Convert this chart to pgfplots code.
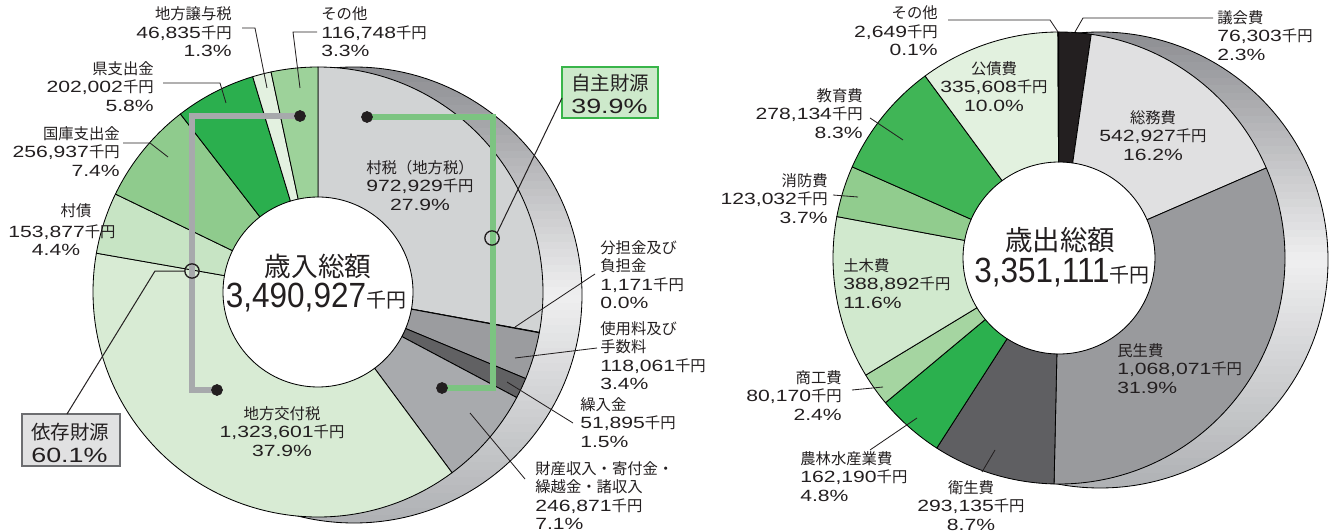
\documentclass[border=0pt]{standalone}
\usepackage{fontspec}
\usepackage{pgfplots}
\usepackage{pgfplotstable}
\pgfplotsset{compat=1.18}
\setmainfont{Noto Sans CJK JP}
\newfontfamily\nf[FakeStretch=1.3,Scale=1.06]{Liberation Sans}
\newfontfamily\bnf[FakeStretch=0.9]{Liberation Sans}
\newcommand\N[1]{{\nf #1}}

\definecolor{txt}{HTML}{231F20}
% revenue colours
\definecolor{aA}{HTML}{D1D3D4}
\definecolor{aB}{HTML}{B0B2B5}
\definecolor{aC}{HTML}{9B9C9F}
\definecolor{aD}{HTML}{616163}
\definecolor{aE}{HTML}{A8AAAD}
\definecolor{aF}{HTML}{D8EBD4}
\definecolor{aG}{HTML}{C7E4C4}
\definecolor{aH}{HTML}{8FCB8D}
\definecolor{aI}{HTML}{2BAF4E}
\definecolor{aJ}{HTML}{E3F1E0}
\definecolor{aK}{HTML}{9DD29A}
% expenditure colours
\definecolor{bA}{HTML}{231F20}
\definecolor{bB}{HTML}{E0E0E1}
\definecolor{bC}{HTML}{999A9D}
\definecolor{bD}{HTML}{5F5F62}
\definecolor{bE}{HTML}{2BB04E}
\definecolor{bF}{HTML}{A5D5A1}
\definecolor{bG}{HTML}{D1E9CE}
\definecolor{bH}{HTML}{91CC8E}
\definecolor{bI}{HTML}{40B556}
\definecolor{bJ}{HTML}{E2F1DF}
\definecolor{bK}{HTML}{D1D3D4}
\definecolor{shTop}{HTML}{8E8F93}
\definecolor{shBot}{HTML}{B0B2B5}
\definecolor{shLight}{HTML}{EFEFF0}
\definecolor{brkGray}{HTML}{A7A9AC}
\definecolor{brkGreen}{HTML}{7CC481}
\definecolor{jiFill}{HTML}{CDE9CB}
\definecolor{jiDraw}{HTML}{39B54A}
\definecolor{izFill}{HTML}{E1E1E2}
\definecolor{izDraw}{HTML}{6D6E71}

\tikzset{
  lb/.style={font=\fontsize{9.2}{11.1}\selectfont, inner sep=0pt, text=txt},
  bx/.style={font=\fontsize{11.7}{13.4}\selectfont, inner sep=0pt, text=txt, align=left, anchor=north west},
}

% 歳入 (千円), clockwise from 12 o'clock
\pgfplotstableread{
v c
972929 aA
1171 aB
118061 aC
51895 aD
246871 aE
1323601 aF
153877 aG
256937 aH
202002 aI
46835 aJ
116748 aK
}\rev
% 歳出 (千円), clockwise from 12 o'clock
\pgfplotstableread{
v c
76303 bA
542927 bB
1068071 bC
293135 bD
162190 bE
80170 bF
388892 bG
123032 bH
278134 bI
335608 bJ
2649 bK
}\expd

% ring wedges from a table: table, cx, cy, Rout, Rin (px)
\newcommand\donut[5]{%
  \fill[white] (axis cs:#2,#3) circle[radius=#5*0.6pt];
  \pgfplotstablegetrowsof{#1}%
  \edef\nr{\fpeval{\pgfplotsretval-1}}%
  \gdef\tot{0}%
  \foreach \i in {0,...,\nr}{%
    \pgfplotstablegetelem{\i}{v}\of{#1}%
    \xdef\tot{\fpeval{\tot+\pgfplotsretval}}}%
  \gdef\cum{0}%
  \foreach \i in {0,...,\nr}{%
    \pgfplotstablegetelem{\i}{v}\of{#1}\let\vv\pgfplotsretval
    \pgfplotstablegetelem{\i}{c}\of{#1}\let\cc\pgfplotsretval
    \edef\angA{\fpeval{round(90-\cum/\tot*360,4)}}%
    \edef\angB{\fpeval{round(90-(\cum+\vv)/\tot*360,4)}}%
    \xdef\cum{\fpeval{\cum+\vv}}%
    \filldraw[fill=\cc, draw=black, line width=0.5pt, line join=round]
      ([shift={(\angA:#4*0.6pt)}]axis cs:#2,#3)
      arc[start angle=\angA, end angle=\angB, radius=#4*0.6pt]
      -- ([shift={(\angB:#5*0.6pt)}]axis cs:#2,#3)
      arc[start angle=\angB, end angle=\angA, radius=#5*0.6pt] -- cycle;
  }}

% 3D rim behind a ring: cx, cy (px, y down), R (px); vertical gradient by stripes
\newcommand\rim[3]{%
  \begin{scope}
    \clip ({#1*0.6pt},{(531-#2)*0.6pt}) circle[radius=#3*0.6pt];
    \foreach \k in {0,...,59}{%
      \edef\tk{\fpeval{\k/59}}%
      \edef\pp{\fpeval{round(\tk<0.5 ? 200*\tk : 200*(1-\tk),2)}}%
      \ifdim\tk pt<0.5pt \colorlet{sc}{shLight!\pp!shTop}\else\colorlet{sc}{shLight!\pp!shBot}\fi
      \edef\ya{\fpeval{round((531-(#2-#3+\k*#3/30))*0.6,3)}}%
      \edef\yb{\fpeval{round((531-(#2-#3+(\k+1)*#3/30))*0.6-0.8,3)}}%
      \fill[sc] ({(#1-#3)*0.6pt},\ya pt) rectangle ({(#1+#3)*0.6pt},\yb pt);
    }%
  \end{scope}
  \draw[line width=0.5pt] ({#1*0.6pt},{(531-#2)*0.6pt}) circle[radius=#3*0.6pt];
}

\begin{document}
\begin{tikzpicture}
\useasboundingbox (0,0) rectangle (799.8pt,318.6pt);
\rim{354}{295}{228}
\rim{1100}{260}{228}
\begin{axis}[
  at={(0pt,0pt)}, anchor=south west,
  x=0.6pt, y=0.6pt, xmin=0, xmax=1333, ymin=0, ymax=531, y dir=reverse,
  hide axis, clip=false, enlargelimits=false,
]
\pgfplotsextra{\donut{\rev}{318}{292}{225}{95}}
\pgfplotsextra{\donut{\expd}{1059}{258}{226}{96}}

% brackets
\addplot[draw=brkGray, line width=3.8pt, mark=none, forget plot] coordinates {(300,116) (192,116) (192,390) (217,390)};
\addplot[draw=brkGreen, line width=3.8pt, mark=none, forget plot] coordinates {(367,117) (493,117) (493,388) (442,388)};
\addplot[only marks, mark=*, mark size=3.3pt, color=txt, forget plot] coordinates {(300,116) (217,390) (367,117) (442,388)};
\addplot[only marks, mark=o, mark size=4.3pt, line width=0.8pt, color=txt, forget plot] coordinates {(492,238) (192,271)};

% boxes
\filldraw[fill=jiFill, draw=jiDraw, line width=0.8pt] (axis cs:562,67) rectangle (axis cs:658,118);
\node[bx] at (axis cs:571,74) {自主財源\\\N{39.9\%}};
\draw[line width=0.6pt, txt] (axis cs:562,98) -- (axis cs:497,233);
\filldraw[fill=izFill, draw=izDraw, line width=0.8pt] (axis cs:22,414) rectangle (axis cs:120,466);
\node[bx] at (axis cs:31,423) {依存財源\\\N{60.1\%}};
\draw[line width=0.6pt, txt] (axis cs:67,414) -- (axis cs:155,271) -- (axis cs:185,271);

% leader lines
\draw[line width=0.5pt, txt] (axis cs:317,32) -- (axis cs:293,32) -- (axis cs:300,88);
\draw[line width=0.5pt, txt] (axis cs:242,28) -- (axis cs:255,28) -- (axis cs:267,88);
\draw[line width=0.5pt, txt] (axis cs:163,83) -- (axis cs:220,83) -- (axis cs:226,103);
\draw[line width=0.5pt, txt] (axis cs:123,143) -- (axis cs:150,143) -- (axis cs:168,157);
\draw[line width=0.5pt, txt] (axis cs:595,274) -- (axis cs:515,327);
\draw[line width=0.5pt, txt] (axis cs:597,348) -- (axis cs:515,358);
\draw[line width=0.5pt, txt] (axis cs:573,423) -- (axis cs:507,382);
\draw[line width=0.5pt, txt] (axis cs:525,479) -- (axis cs:470,413);
\draw[line width=0.5pt, txt] (axis cs:1213,18) -- (axis cs:1083,18) -- (axis cs:1075,32);
\draw[line width=0.5pt, txt] (axis cs:948,20) -- (axis cs:1050,20) -- (axis cs:1058,32);
\draw[line width=0.5pt, txt] (axis cs:870,118) -- (axis cs:903,140);
\draw[line width=0.5pt, txt] (axis cs:833,195) -- (axis cs:858,197);
\draw[line width=0.5pt, txt] (axis cs:852,390) -- (axis cs:883,387);
\draw[line width=0.5pt, txt] (axis cs:870,450) -- (axis cs:917,418);
\draw[line width=0.5pt, txt] (axis cs:982,472) -- (axis cs:995,450);

% revenue labels
\node[lb, anchor=north west, align=left] at (axis cs:321,6.5) {その他\\\N{116,748}千円\\\N{3.3\%}};
\node[lb, anchor=north east, align=right] at (axis cs:232,6.5) {地方譲与税\\\N{46,835}千円\\\N{1.3\%}};
\node[lb, anchor=north east, align=right] at (axis cs:154,61) {県支出金\\\N{202,002}千円\\\N{5.8\%}};
\node[lb, anchor=north east, align=right] at (axis cs:120,126) {国庫支出金\\\N{256,937}千円\\\N{7.4\%}};
\node[lb] at (axis cs:76,211) {村債};
\node[lb] at (axis cs:62,232) {\N{153,877}千円};
\node[lb] at (axis cs:56,250) {\N{4.4\%}};
\node[lb, anchor=north, align=center] at (axis cs:420,160) {村税（地方税）\\\N{972,929}千円\\\N{27.9\%}};
\node[lb, anchor=north west, align=left] at (axis cs:600,240) {分担金及び\\負担金\\\N{1,171}千円\\\N{0.0\%}};
\node[lb, anchor=north west, align=left] at (axis cs:600,321) {使用料及び\\手数料\\\N{118,061}千円\\\N{3.4\%}};
\node[lb, anchor=north west, align=left] at (axis cs:580,397) {繰入金\\\N{51,895}千円\\\N{1.5\%}};
\node[lb, anchor=north west, align=left] at (axis cs:535,461) {財産収入・寄付金・\\繰越金・諸収入\\\N{246,871}千円\\\N{7.1\%}};
\node[lb, anchor=north, align=center] at (axis cs:282,406) {地方交付税\\\N{1,323,601}千円\\\N{37.9\%}};
\node[inner sep=0pt, text=txt, font=\fontsize{16}{16}\selectfont] at (axis cs:318,266) {歳入総額};
\node[inner sep=0pt, text=txt] at (axis cs:316,298) {{\fontsize{21}{21}\selectfont\bnf 3,490,927}{\fontsize{12}{12}\selectfont 千円}};

% expenditure labels
\node[lb, anchor=north west, align=left] at (axis cs:1217,10) {議会費\\\N{76,303}千円\\\N{2.3\%}};
\node[lb, anchor=north east, align=right] at (axis cs:938,5.5) {その他\\\N{2,649}千円\\\N{0.1\%}};
\node[lb, anchor=north, align=center] at (axis cs:994,61) {公債費\\\N{335,608}千円\\\N{10.0\%}};
\node[lb, anchor=north east, align=right] at (axis cs:863,88) {教育費\\\N{278,134}千円\\\N{8.3\%}};
\node[lb, anchor=north east, align=right] at (axis cs:828,173) {消防費\\\N{123,032}千円\\\N{3.7\%}};
\node[lb, anchor=north west, align=left] at (axis cs:843,258) {土木費\\\N{388,892}千円\\\N{11.6\%}};
\node[lb, anchor=north east, align=right] at (axis cs:842,370) {商工費\\\N{80,170}千円\\\N{2.4\%}};
\node[lb, anchor=north west, align=left] at (axis cs:800,451) {農林水産業費\\\N{162,190}千円\\\N{4.8\%}};
\node[lb, anchor=north, align=center] at (axis cs:971,480) {衛生費\\\N{293,135}千円\\\N{8.7\%}};
\node[lb, anchor=north, align=center] at (axis cs:1153,110) {総務費\\\N{542,927}千円\\\N{16.2\%}};
\node[lb, anchor=north west, align=left] at (axis cs:1117,343) {民生費\\\N{1,068,071}千円\\\N{31.9\%}};
\node[inner sep=0pt, text=txt, font=\fontsize{16.5}{16.5}\selectfont] at (axis cs:1060,240) {歳出総額};
\node[inner sep=0pt, text=txt] at (axis cs:1062,273) {{\fontsize{21}{21}\selectfont\bnf 3,351,111}{\fontsize{12}{12}\selectfont 千円}};
\end{axis}
\end{tikzpicture}
\end{document}
